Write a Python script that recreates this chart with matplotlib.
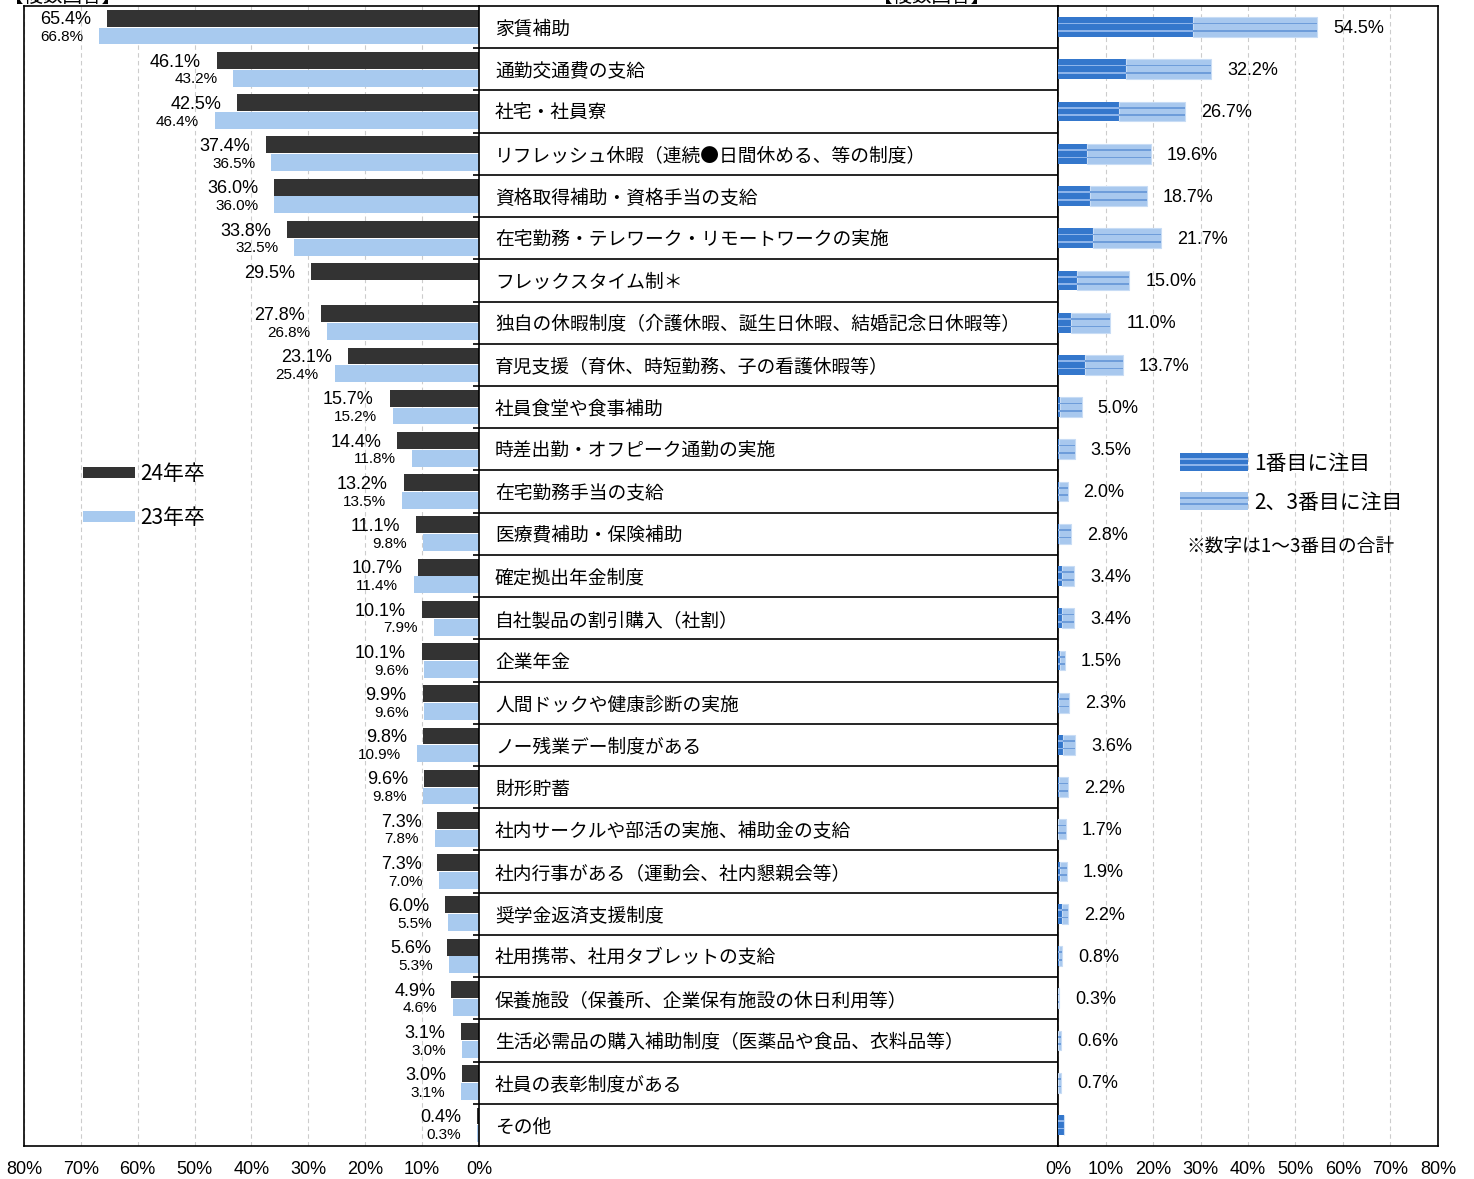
import numpy as np
import matplotlib
matplotlib.use("Agg")
import matplotlib.pyplot as plt
from matplotlib.patches import Rectangle

JP = ['Noto Sans CJK JP', 'DejaVu Sans']
NUM = ['Liberation Sans', 'Noto Sans CJK JP']

# --- data -------------------------------------------------------------
categories = [
    "家賃補助",
    "通勤交通費の支給",
    "社宅・社員寮",
    "リフレッシュ休暇（連続●日間休める、等の制度）",
    "資格取得補助・資格手当の支給",
    "在宅勤務・テレワーク・リモートワークの実施",
    "フレックスタイム制＊",
    "独自の休暇制度（介護休暇、誕生日休暇、結婚記念日休暇等）",
    "育児支援（育休、時短勤務、子の看護休暇等）",
    "社員食堂や食事補助",
    "時差出勤・オフピーク通勤の実施",
    "在宅勤務手当の支給",
    "医療費補助・保険補助",
    "確定拠出年金制度",
    "自社製品の割引購入（社割）",
    "企業年金",
    "人間ドックや健康診断の実施",
    "ノー残業デー制度がある",
    "財形貯蓄",
    "社内サークルや部活の実施、補助金の支給",
    "社内行事がある（運動会、社内懇親会等）",
    "奨学金返済支援制度",
    "社用携帯、社用タブレットの支給",
    "保養施設（保養所、企業保有施設の休日利用等）",
    "生活必需品の購入補助制度（医薬品や食品、衣料品等）",
    "社員の表彰制度がある",
    "その他",
]

grad24 = [65.4, 46.1, 42.5, 37.4, 36.0, 33.8, 29.5, 27.8, 23.1, 15.7, 14.4, 13.2, 11.1,
          10.7, 10.1, 10.1, 9.9, 9.8, 9.6, 7.3, 7.3, 6.0, 5.6, 4.9, 3.1, 3.0, 0.4]
grad23 = [66.8, 43.2, 46.4, 36.5, 36.0, 32.5, None, 26.8, 25.4, 15.2, 11.8, 13.5, 9.8,
          11.4, 7.9, 9.6, 9.6, 10.9, 9.8, 7.8, 7.0, 5.5, 5.3, 4.6, 3.0, 3.1, 0.3]

# 1番目に注目 / 1~3番目の合計
first_rank = [28.5, 14.3, 12.8, 6.0, 6.7, 7.4, 4.0, 2.8, 5.7, 0.4, 0.3, 0.3, 0.3,
              0.9, 0.9, 0.5, 0.2, 1.0, 0.2, 0.1, 0.4, 0.9, 0.2, 0.1, 0.1, 0.1, 1.3]
total_rank = [54.5, 32.2, 26.7, 19.6, 18.7, 21.7, 15.0, 11.0, 13.7, 5.0, 3.5, 2.0, 2.8,
              3.4, 3.4, 1.5, 2.3, 3.6, 2.2, 1.7, 1.9, 2.2, 0.8, 0.3, 0.6, 0.7, None]

ticks = list(range(0, 90, 10))
tick_labels = [f"{t}%" for t in ticks]

# --- colours ------------------------------------------------------------
C_24 = '#333333'
C_23 = '#A8CAEF'
C_R1 = '#3477CC'
C_R1_LINE = '#8DB4EA'
C_R2 = '#A8C8EE'
C_R2_LINE = '#6E9DDA'
C_GRID = '#CCCCCC'

W, H = 1474, 1179


def fx(x):
    return x / W


def fy(y):
    return 1 - y / H


fig = plt.figure(figsize=(W / 100, H / 100), dpi=100)
top, bot = 6, 1146
ax_l = fig.add_axes([fx(24), fy(bot), (479 - 24) / W, (bot - top) / H])
ax_m = fig.add_axes([fx(479), fy(bot), (1058 - 479) / W, (bot - top) / H])
ax_r = fig.add_axes([fx(1058), fy(bot), (1438 - 1058) / W, (bot - top) / H])

n = len(categories)
y = np.arange(n)

for ax in (ax_l, ax_m, ax_r):
    ax.set_ylim(n - 0.5, -0.5)
    ax.set_yticks([])
    for s in ax.spines.values():
        s.set_linewidth(1.2)
        s.set_color('black')

# --- left: 24年卒 vs 23年卒 ----------------------------------------------
ax_l.set_xlim(80, 0)
ax_l.set_axisbelow(True)
ax_l.grid(axis='x', ls=(0, (4, 3)), color=C_GRID, lw=0.8)
ax_l.spines['right'].set_visible(False)
ax_l.set_xticks(ticks)
ax_l.set_xticklabels(tick_labels, family=NUM, fontsize=13)
ax_l.tick_params(axis='x', length=0, pad=11)

v23 = [np.nan if v is None else v for v in grad23]
ax_l.barh(y - 0.21, grad24, height=0.4, color=C_24, zorder=3)
ax_l.barh(y + 0.21, v23, height=0.4, color=C_23, zorder=3)
for i in range(n):
    ax_l.annotate(f"{grad24[i]:.1f}%", xy=(grad24[i], i - 0.17), xytext=(-11.5, 0),
                  textcoords='offset points', ha='right', va='center',
                  family=NUM, fontsize=13)
    if grad23[i] is not None:
        ax_l.annotate(f"{grad23[i]:.1f}%", xy=(grad23[i], i + 0.24), xytext=(-11.5, 0),
                      textcoords='offset points', ha='right', va='center',
                      family=NUM, fontsize=11)

# --- middle: category labels -------------------------------------------
ax_m.set_xlim(0, 1058 - 479)
ax_m.set_xticks([])
ax_m.hlines(np.arange(0.5, n - 0.5), -6, 1058 - 479, color='black', lw=1.2,
            clip_on=False, zorder=5)
for i, c in enumerate(categories):
    ax_m.text(16, i + 0.05, c, va='center', ha='left', family=JP, fontsize=13.5)

# --- right: 1番目 / 2、3番目 ---------------------------------------------
ax_r.set_xlim(0, 80)
ax_r.set_axisbelow(True)
ax_r.grid(axis='x', ls=(0, (4, 3)), color=C_GRID, lw=0.8)
ax_r.set_xticks(ticks)
ax_r.set_xticklabels(tick_labels, family=NUM, fontsize=13)
ax_r.tick_params(axis='x', length=0, pad=11)

second_rank = [(t - f) if t is not None else 0.0 for f, t in zip(first_rank, total_rank)]
bh = 0.47
ax_r.barh(y, first_rank, height=bh, color=C_R1, zorder=3)
ax_r.barh(y, second_rank, left=first_rank, height=bh, color=C_R2,
          edgecolor='#C8DCF5', lw=0.8, zorder=3)
for off in (-0.088, 0.088):
    ax_r.barh(y + off, first_rank, height=0.04, color=C_R1_LINE, zorder=4)
    ax_r.barh(y + off, second_rank, left=first_rank, height=0.04, color=C_R2_LINE, zorder=4)
for i, t in enumerate(total_rank):
    if t is None:
        continue
    ax_r.annotate(f"{t:.1f}%", xy=(t, i + 0.03), xytext=(11.5, 0), textcoords='offset points',
                  ha='left', va='center', family=NUM, fontsize=13)


# --- legends ------------------------------------------------------------
def box(x0, y0, x1, y1, color, **kw):
    fig.add_artist(Rectangle((fx(x0), fy(y1)), (x1 - x0) / W, (y1 - y0) / H,
                             transform=fig.transFigure, facecolor=color, **kw))


box(83, 467, 135, 478, C_24, lw=0)
box(83, 511, 135, 522, C_23, lw=0)
fig.text(fx(140), fy(474), "24年卒", family=JP, fontsize=15, va='center')
fig.text(fx(140), fy(518), "23年卒", family=JP, fontsize=15, va='center')


def striped(y0, face, line):
    box(1180, y0, 1248, y0 + 18, face, lw=0)
    box(1180, y0 + 5, 1248, y0 + 7, line, lw=0)
    box(1180, y0 + 11, 1248, y0 + 13, line, lw=0)


striped(453, C_R1, C_R1_LINE)
striped(492, C_R2, C_R2_LINE)
fig.text(fx(1254), fy(464), "1番目に注目", family=JP, fontsize=15, va='center')
fig.text(fx(1254), fy(503), "2、3番目に注目", family=JP, fontsize=15, va='center')
fig.text(fx(1186), fy(546), "※数字は1～3番目の合計", family=JP, fontsize=13.5, va='center')

# header text sitting above the frame
fig.text(fx(4), fy(3), "【複数回答】", family=JP, fontsize=14, va='baseline')
fig.text(fx(873), fy(3), "【複数回答】", family=JP, fontsize=14, va='baseline')

fig.savefig("out.png", dpi=100)
